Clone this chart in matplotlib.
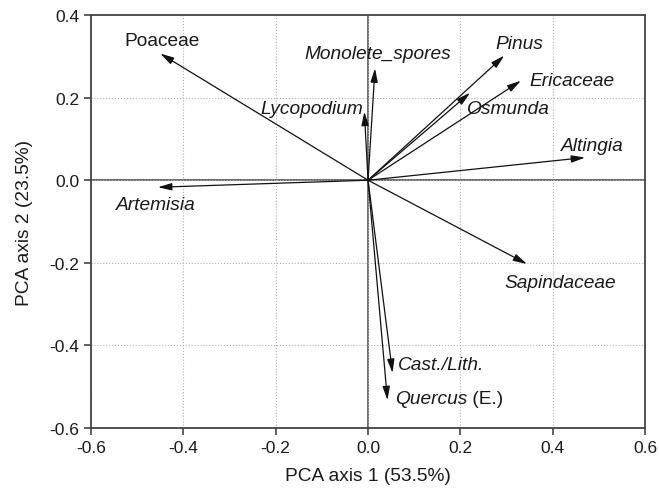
import matplotlib
matplotlib.use('Agg')
import matplotlib.pyplot as plt

plt.rcParams['font.family'] = ['Liberation Sans', 'DejaVu Sans']

# Loadings of the pollen taxa on the first two PCA axes
taxa = ['Poaceae', 'Artemisia', 'Monolete_spores', 'Lycopodium', 'Pinus',
        'Osmunda', 'Ericaceae', 'Altingia', 'Sapindaceae', 'Cast./Lith.',
        'Quercus']
pc1 = [-0.450, -0.455, 0.015, -0.008, 0.295, 0.221, 0.331, 0.470, 0.344, 0.053, 0.042]
pc2 = [0.307, -0.017, 0.271, 0.166, 0.302, 0.212, 0.241, 0.055, -0.203, -0.467, -0.533]

# Label anchor points (data units) and alignment
label_x = [-0.447, -0.459, 0.020, -0.011, 0.327, 0.303, 0.349, 0.485, 0.416, 0.065, 0.058]
label_y = [0.339, -0.060, 0.307, 0.174, 0.332, 0.174, 0.242, 0.085, -0.249, -0.446, -0.528]
label_ha = ['center', 'center', 'center', 'right', 'center', 'center', 'left',
            'center', 'center', 'left', 'left']
italic = [False, True, True, True, True, True, True, True, True, True, True]

fig = plt.figure(figsize=(6.59, 4.89), dpi=100)
ax = fig.add_axes([0.138, 0.123, 0.841, 0.844])

ax.set_xlim(-0.6, 0.6)
ax.set_ylim(-0.6, 0.4)
ax.set_xticks([-0.6, -0.4, -0.2, 0.0, 0.2, 0.4, 0.6])
ax.set_yticks([-0.6, -0.4, -0.2, 0.0, 0.2, 0.4])
ax.xaxis.set_major_formatter(matplotlib.ticker.FormatStrFormatter('%.1f'))
ax.yaxis.set_major_formatter(matplotlib.ticker.FormatStrFormatter('%.1f'))
ax.grid(True, linestyle=':', color='#b0b0b0', linewidth=0.8)
ax.axhline(0, color='#444444', lw=1.1, zorder=1)
ax.axvline(0, color='#444444', lw=1.1, zorder=1)

for s in ax.spines.values():
    s.set_color('#444444')
    s.set_linewidth(1.3)
ax.tick_params(direction='out', length=5, width=1.2, color='#444444',
               labelsize=12.5, labelcolor='#1a1a1a', top=False, right=False)

fs = 13.8
for i, name in enumerate(taxa):
    ax.annotate('', xy=(pc1[i], pc2[i]), xytext=(0, 0),
                arrowprops=dict(arrowstyle='-|>,head_length=0.75,head_width=0.2',
                                mutation_scale=11, lw=0.9, color='#111111',
                                shrinkA=0, shrinkB=0), zorder=3)
    style = 'italic' if italic[i] else 'normal'
    if name == 'Quercus':
        t = ax.text(label_x[i], label_y[i], 'Quercus', ha='left', va='center',
                    fontsize=fs, style='italic', color='#1a1a1a')
        ax.annotate(' (E.)', xycoords=t, xy=(1, 0), va='bottom', ha='left',
                    fontsize=fs, color='#1a1a1a')
    else:
        ax.text(label_x[i], label_y[i], name, ha=label_ha[i], va='center',
                fontsize=fs, style=style, color='#1a1a1a')

ax.set_xlabel('PCA axis 1 (53.5%)', fontsize=fs, color='#1a1a1a', labelpad=9)
ax.set_ylabel('PCA axis 2 (23.5%)', fontsize=fs, color='#1a1a1a', labelpad=12)

fig.savefig('out.png', dpi=100)
